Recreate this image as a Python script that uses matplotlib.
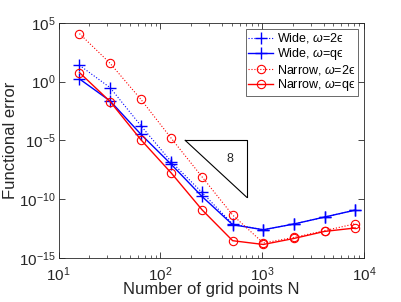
import matplotlib
matplotlib.use("Agg")
import matplotlib.pyplot as plt
import numpy as np
from matplotlib.ticker import LogLocator, NullLocator, FixedLocator, FuncFormatter

plt.rcParams['font.family'] = ['Liberation Sans', 'DejaVu Sans']
plt.rcParams['mathtext.fontset'] = 'custom'
plt.rcParams['mathtext.rm'] = 'Liberation Sans'
plt.rcParams['mathtext.it'] = 'Liberation Sans:italic'

N = [16, 32, 64, 128, 256, 512, 1024, 2048, 4096, 8192]
wide_2eps_log = [1.38, -0.52, -3.74, -6.83, -9.43, -12.11, -12.6, -12.11, -11.52, -10.93]
wide_qeps_log = [0.22, -1.65, -4.47, -7.05, -9.77, -12.17, -12.6, -12.11, -11.52, -10.93]
narrow_2eps_log = [4.07, 1.55, -1.5, -4.84, -8.1, -11.35, -13.73, -13.25, -12.68, -12.09]
narrow_qeps_log = [0.76, -1.7, -4.93, -7.79, -10.9, -13.53, -13.85, -13.34, -12.74, -12.45]

wide_2eps = [10**v for v in wide_2eps_log]
wide_qeps = [10**v for v in wide_qeps_log]
narrow_2eps = [10**v for v in narrow_2eps_log]
narrow_qeps = [10**v for v in narrow_qeps_log]

tri_x = [175, 703]
tri_y = [1e-5, 1e-5 * (175/703)**8]
slope_label = "8"

axcol = '#262626'
fig = plt.figure(figsize=(4.02, 3.02), dpi=100)
ax = fig.add_axes([58.7/402, 1 - 258/302, (364 - 58.7)/402, (258 - 22.7)/302])

ax.loglog(N, wide_2eps, ':+', color='#0000ff', lw=0.8, ms=8, mew=1.0, label='Wide, $\\mathit{\\omega}$=2ϵ')
ax.loglog(N, wide_qeps, '-+', color='#0000ff', lw=1.0, ms=8, mew=1.0, label='Wide, $\\mathit{\\omega}$=qϵ')
ax.loglog(N, narrow_2eps, ':o', color='#ff0000', lw=0.8, ms=6, mew=0.8, mfc='none', label='Narrow, $\\mathit{\\omega}$=2ϵ')
ax.loglog(N, narrow_qeps, '-o', color='#ff0000', lw=1.0, ms=6, mew=0.8, mfc='none', label='Narrow, $\\mathit{\\omega}$=qϵ')

# slope triangle
ax.plot([tri_x[0], tri_x[1], tri_x[1]], [tri_y[0], tri_y[0], tri_y[1]], color='k', lw=0.8)
ax.plot([tri_x[0], tri_x[1]], [tri_y[0], tri_y[1]], color='k', lw=0.8)
ax.text(482, 10**-6.57, slope_label, fontsize=9, ha='center', va='center', color=axcol)

def fmt(v, pos):
    e = int(round(np.log10(v)))
    return r'$\mathregular{10^{%d}}$' % e

ax.set_xlim(10, 1e4)
ax.set_ylim(1e-15, 1e5)
ax.yaxis.set_major_locator(FixedLocator([1e-15, 1e-10, 1e-5, 1e0, 1e5]))
ax.yaxis.set_minor_locator(NullLocator())
ax.xaxis.set_major_locator(LogLocator(base=10, numticks=10))
ax.xaxis.set_minor_locator(LogLocator(base=10, subs=np.arange(2, 10), numticks=20))
ax.xaxis.set_major_formatter(FuncFormatter(fmt))
ax.yaxis.set_major_formatter(FuncFormatter(fmt))
ax.tick_params(which='both', direction='in', top=True, right=True, labelsize=11,
               colors=axcol)
ax.tick_params(axis='y', pad=2)
ax.tick_params(axis='x', pad=5)
ax.tick_params(which='major', length=4, width=0.6)
ax.tick_params(which='minor', length=2, width=0.5)
for s in ax.spines.values():
    s.set_linewidth(0.6)
    s.set_color(axcol)

ax.set_xlabel('Number of grid points N', fontsize=12, labelpad=-1, color=axcol)
ax.set_ylabel('Functional error', fontsize=12, labelpad=1, color=axcol)

leg = ax.legend(loc='upper right', fontsize=9, frameon=True, fancybox=False,
                edgecolor=axcol, handlelength=2.0, handletextpad=0.3, borderpad=0.2,
                labelspacing=0.05, borderaxespad=0.5)
leg.get_frame().set_linewidth(0.6)
for t in leg.get_texts():
    t.set_color('k')

fig.savefig('out.png', dpi=100)
